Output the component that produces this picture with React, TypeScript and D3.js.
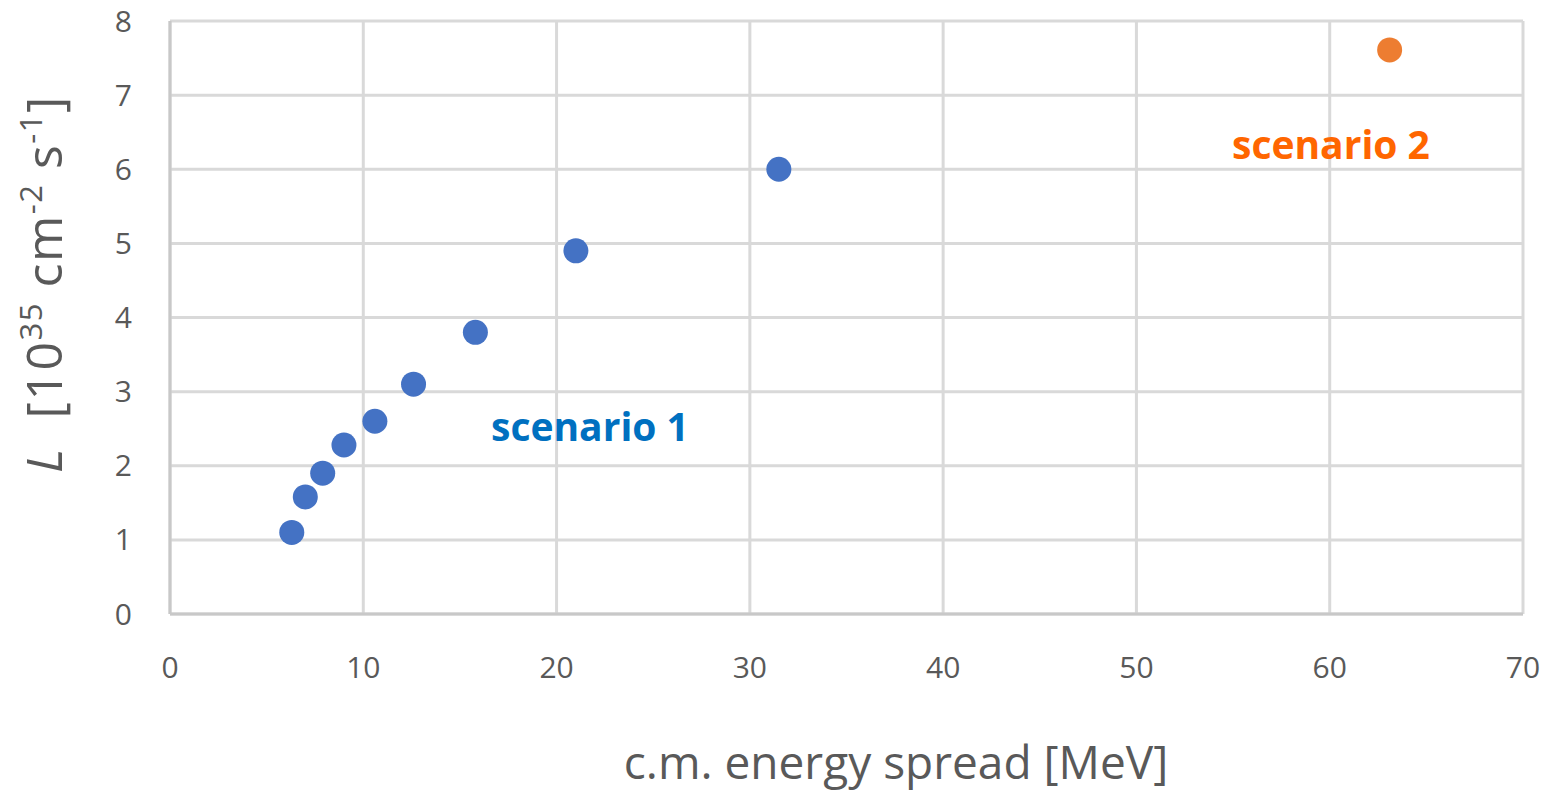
import { useEffect, useRef } from "react"
import { scaleLinear, select } from "d3"

// scenario 1 (blue points)
const spread1 = [6.3, 7.0, 7.9, 9.0, 10.6, 12.6, 15.8, 21.0, 31.5]
const lumi1 = [1.1, 1.58, 1.9, 2.28, 2.6, 3.1, 3.8, 4.9, 6.0]
// scenario 2 (orange point)
const spread2 = [63.1]
const lumi2 = [7.61]

const xTicks = [0, 10, 20, 30, 40, 50, 60, 70]
const yTicks = [0, 1, 2, 3, 4, 5, 6, 7, 8]

const W = 1556
const H = 792
const margin = { top: 21, right: 33, bottom: 178, left: 170 }

export default function App() {
  const ref = useRef<SVGSVGElement>(null)

  useEffect(() => {
    if (!ref.current) return
    const svg = select(ref.current)
    svg.selectAll("*").remove()

    const x = scaleLinear().domain([0, 70]).range([margin.left, W - margin.right])
    const y = scaleLinear().domain([0, 8]).range([H - margin.bottom, margin.top])
    const grid = "#d9d9d9"
    const tickColor = "#595959"
    const font = "'Open Sans', 'DejaVu Sans', sans-serif"

    const g = svg.append("g")

    // grid lines
    g.selectAll("line.h").data(yTicks).join("line")
      .attr("x1", x(0)).attr("x2", x(70))
      .attr("y1", d => y(d)).attr("y2", d => y(d))
      .attr("stroke", grid).attr("stroke-width", 3)
    g.selectAll("line.v").data(xTicks).join("line")
      .attr("y1", y(0)).attr("y2", y(8))
      .attr("x1", d => x(d)).attr("x2", d => x(d))
      .attr("stroke", grid).attr("stroke-width", 3)
    // axis lines a bit darker
    g.append("line").attr("x1", x(0)).attr("x2", x(0)).attr("y1", y(0)).attr("y2", y(8))
      .attr("stroke", "#c8c8c8").attr("stroke-width", 3)
    g.append("line").attr("x1", x(0)).attr("x2", x(70)).attr("y1", y(0)).attr("y2", y(0))
      .attr("stroke", "#c8c8c8").attr("stroke-width", 3)

    // tick labels
    g.selectAll("text.yt").data(yTicks).join("text")
      .attr("x", 132).attr("y", d => y(d))
      .attr("dy", "0.35em")
      .attr("text-anchor", "end")
      .attr("font-family", font).attr("font-size", 30)
      .attr("fill", tickColor)
      .text(d => d)
    g.selectAll("text.xt").data(xTicks).join("text")
      .attr("x", d => x(d)).attr("y", 667)
      .attr("dy", "0.35em")
      .attr("text-anchor", "middle")
      .attr("font-family", font).attr("font-size", 30)
      .attr("fill", tickColor)
      .text(d => d)

    // axis titles
    g.append("text")
      .attr("x", 896).attr("y", 779)
      .attr("text-anchor", "middle")
      .attr("font-family", font).attr("font-size", 46)
      .attr("fill", tickColor)
      .text("c.m. energy spread [MeV]")

    const yt = g.append("text")
      .attr("transform", "translate(62, 284) rotate(-90)")
      .attr("text-anchor", "middle")
      .attr("font-family", font).attr("font-size", 50)
      .attr("letter-spacing", 1.5)
      .attr("fill", tickColor)
    yt.append("tspan").attr("font-style", "italic").text("L")
    yt.append("tspan").text("\u00a0\u00a0[10")
    yt.append("tspan").attr("font-size", 31).attr("dy", -20).text("35")
    yt.append("tspan").attr("dy", 20).text(" cm")
    yt.append("tspan").attr("font-size", 31).attr("dy", -20).text("-2")
    yt.append("tspan").attr("dy", 20).text(" s")
    yt.append("tspan").attr("font-size", 31).attr("dy", -20).text("-1")
    yt.append("tspan").attr("dy", 20).text("]")

    // points
    g.selectAll("circle.s1").data(spread1).join("circle")
      .attr("cx", d => x(d)).attr("cy", (_, i) => y(lumi1[i]))
      .attr("r", 12.5).attr("fill", "#4472c4")
    g.selectAll("circle.s2").data(spread2).join("circle")
      .attr("cx", d => x(d)).attr("cy", (_, i) => y(lumi2[i]))
      .attr("r", 12.5).attr("fill", "#ed7d31")

    // annotations
    g.append("text")
      .attr("x", 491).attr("y", 441)
      .attr("font-family", font).attr("font-weight", 700).attr("font-size", 39)
      .attr("fill", "#0070c0")
      .text("scenario 1")
    g.append("text")
      .attr("x", 1232).attr("y", 159)
      .attr("font-family", font).attr("font-weight", 700).attr("font-size", 39)
      .attr("fill", "#ff6600")
      .text("scenario 2")
  }, [])

  return (
    <svg ref={ref} width={W} height={H}
      style={{ position: "absolute", left: 0, top: 0, background: "white" }} />
  )
}
